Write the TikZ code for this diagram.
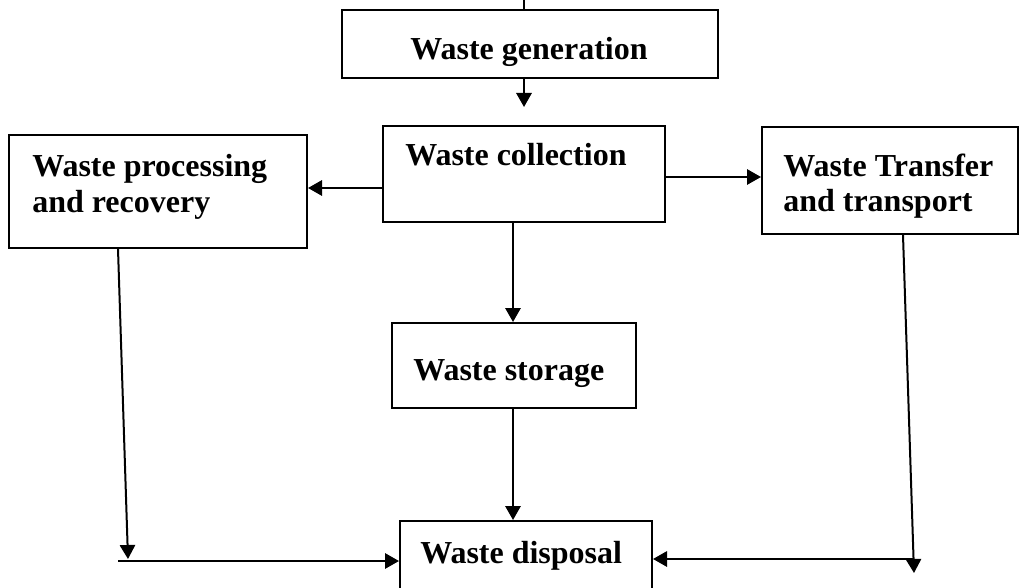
\documentclass[tikz,border=0pt]{standalone}
\usepackage{fontspec}
\setmainfont{Liberation Serif}
\usetikzlibrary{fit,arrows.meta}
\begin{document}
\begin{tikzpicture}[x=0.75pt,y=-0.75pt,
  box/.style={draw,line width=1.5pt,inner sep=0pt,rectangle},
  lbl/.style={font=\fontsize{24}{28}\selectfont\bfseries,inner sep=0pt,anchor=base west},
  arr/.style={line width=1.5pt,-{Triangle[length=10.5pt,width=11.5pt]}},
  ln/.style={line width=1.5pt}]
\clip (0,0) rectangle (1021,588);
\fill[white] (0,0) rectangle (1021,588);
% boxes
\node[box,fit={(342,10) (718,78)}] (gen) {};
\node[box,fit={(383,126) (665,222)}] (coll) {};
\node[box,fit={(9,135) (307,248)}] (proc) {};
\node[box,fit={(762,127) (1018,234)}] (tran) {};
\node[box,fit={(392,323) (636,408)}] (stor) {};
\node[box,fit={(400,521) (652,610)}] (disp) {};
% labels
\node[lbl,anchor=base] (tgen) at (529,60) {Waste generation};
\node[lbl] (tcoll) at (405,166) {Waste collection};
\node[lbl] (tproc1) at (32,177) {Waste processing};
\node[lbl] (tproc2) at (32,213) {and recovery};
\node[lbl] (ttran1) at (783,177) {Waste Transfer};
\node[lbl] (ttran2) at (783,211) {and transport};
\node[lbl] (tstor) at (413,380) {Waste storage};
\node[lbl] (tdisp) at (420,563) {Waste disposal};
% free ends
\coordinate (tk) at (524,0);
\coordinate (t1) at (524,107);
\coordinate (pl) at (128,559);
\coordinate (ph) at (118,561);
\coordinate (pr) at (914,573);
\coordinate (qh) at (913,559);
% connectors
\draw[line width=0.8pt] (gen.north -| tk) -- (tk);
\draw[arr] (gen.south -| t1) -- (t1);
\draw[arr] (coll.west |- 0,188) -- (proc.east |- 0,188);
\draw[arr] (coll.east |- 0,177) -- (tran.west |- 0,177);
\draw[arr] (coll.south -| 513,0) -- (stor.north -| 513,0);
\draw[arr] (stor.south -| 513,0) -- (disp.north -| 513,0);
\draw[arr] (proc.south -| 118,0) -- (pl);
\draw[arr] (ph) -- (disp.west |- ph);
\draw[arr] (tran.south -| 903,0) -- (pr);
\draw[arr] (qh) -- (disp.east |- qh);
\end{tikzpicture}
\end{document}
